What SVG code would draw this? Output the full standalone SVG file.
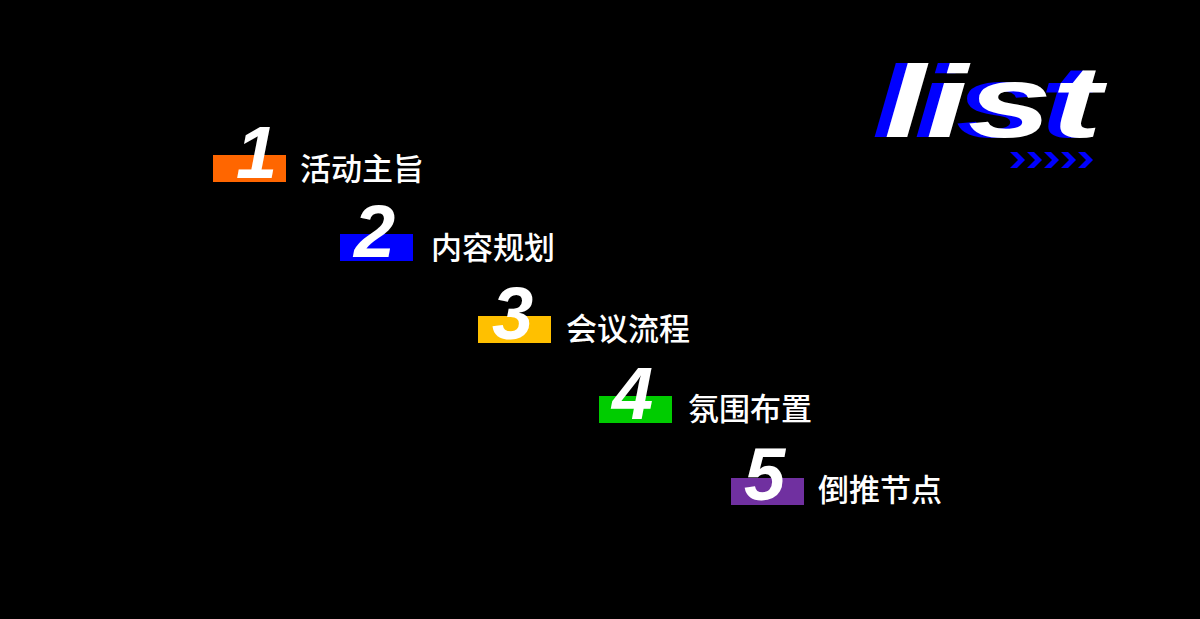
<svg xmlns="http://www.w3.org/2000/svg" width="1200" height="619" viewBox="0 0 1200 619">
<style>
.num{font-family:"Liberation Sans",sans-serif;font-weight:bold;font-style:italic;font-size:74px;fill:#fff}
.lbl{font-family:"Noto Sans CJK SC","Noto Sans",sans-serif;font-weight:500;font-size:31px;fill:#fff}
.big{font-family:"Liberation Sans",sans-serif;font-weight:bold;font-style:italic;font-size:102px}
</style>
<defs><path id="chev" d="M0,0 L7,0 L15,8 L7,16 L0,16 L8,8 Z" fill="#0000ff"/></defs>
<rect width="1200" height="619" fill="#000"/>
<g id="title">
<text class="big" x="872" y="137" fill="#0000ff" textLength="218" lengthAdjust="spacingAndGlyphs">list</text>
<text class="big" x="884" y="137" fill="#fff" textLength="218" lengthAdjust="spacingAndGlyphs">list</text>
<use href="#chev" x="1010" y="152"/><use href="#chev" x="1027" y="152"/><use href="#chev" x="1044" y="152"/><use href="#chev" x="1061" y="152"/><use href="#chev" x="1078" y="152"/>
</g>
<g id="item1"><rect x="213" y="155" width="73" height="27" fill="#ff6600"/><text class="num" x="236" y="178">1</text><text class="lbl" x="300" y="180">活动主旨</text></g>
<g id="item2"><rect x="340" y="234" width="73" height="27" fill="#0000ff"/><text class="num" x="354" y="257">2</text><text class="lbl" x="431" y="259">内容规划</text></g>
<g id="item3"><rect x="478" y="316" width="73" height="27" fill="#ffc000"/><text class="num" x="492" y="339">3</text><text class="lbl" x="566" y="340">会议流程</text></g>
<g id="item4"><rect x="599" y="396" width="73" height="27" fill="#00cc00"/><text class="num" x="612" y="419">4</text><text class="lbl" x="688" y="420">氛围布置</text></g>
<g id="item5"><rect x="731" y="478" width="73" height="27" fill="#7030a0"/><text class="num" x="744" y="500">5</text><text class="lbl" x="818" y="501">倒推节点</text></g>
<g id="connectors"/>
</svg>
